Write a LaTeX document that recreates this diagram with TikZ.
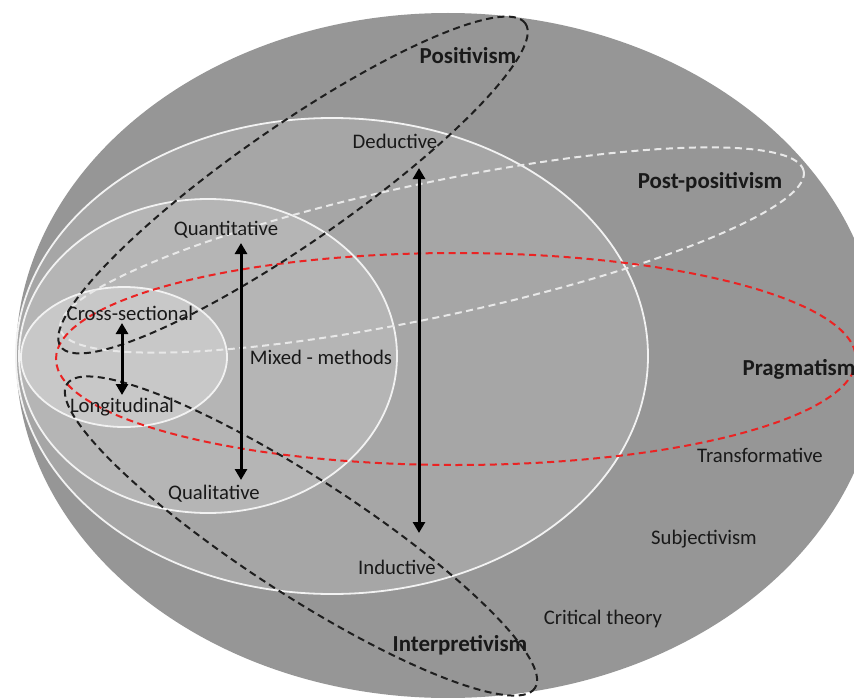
\documentclass[tikz,border=0pt]{standalone}
\usepackage{fontspec}
\setmainfont{Carlito}
\usetikzlibrary{arrows.meta}

\definecolor{shellA}{RGB}{150,150,150}
\definecolor{shellB}{RGB}{166,166,166}
\definecolor{shellC}{RGB}{181,181,181}
\definecolor{shellD}{RGB}{200,200,200}
\definecolor{rimwhite}{RGB}{242,242,242}
\definecolor{dashblack}{RGB}{30,30,30}
\definecolor{dashred}{RGB}{235,35,35}
\definecolor{dashwhite}{RGB}{232,232,232}
\definecolor{txt}{RGB}{25,25,25}

\begin{document}
\begin{tikzpicture}[x=1pt, y=-1pt,
  lbl/.style={inner sep=0pt, anchor=base, text=txt, font=\fontsize{20.7}{24}\selectfont},
  hdr/.style={inner sep=0pt, anchor=base, text=txt, font=\fontsize{22.9}{27}\selectfont\bfseries},
  rim/.style={draw=rimwhite, line width=1.8pt},
  blackdash/.style={draw=dashblack, line width=2pt, dash pattern=on 7pt off 4.5pt},
  reddash/.style={draw=dashred, line width=2pt, dash pattern=on 7pt off 4.5pt},
  whitedash/.style={draw=dashwhite, line width=2pt, dash pattern=on 7pt off 4.5pt},
  dbl/.style={line width=3pt, draw=black,
    {Triangle[length=11pt,width=12pt]}-{Triangle[length=11pt,width=12pt]}}
]
\useasboundingbox (0,0) rectangle (854,698);
\clip (0,0) rectangle (854,698);
\fill[white] (0,0) rectangle (854,698);

% nested shells
\fill[shellA] (448,355.5) ellipse [x radius=432, y radius=342.5];
\filldraw[fill=shellB, rim] (332,356) ellipse [x radius=316, y radius=238];
\filldraw[fill=shellC, rim] (208,356) ellipse [x radius=189, y radius=157];
\filldraw[fill=shellD, rim] (124,357) ellipse [x radius=103, y radius=70];

% paradigm outlines
\draw[whitedash, rotate around={12:(432,250)}] (432,250) ellipse [x radius=380, y radius=67];
\draw[reddash] (456,359) ellipse [x radius=400, y radius=106];
\draw[blackdash, rotate around={34.8:(293,185)}] (293,185) ellipse [x radius=283, y radius=58];
\draw[blackdash, rotate around={-33:(301,536)}] (301,536) ellipse [x radius=279, y radius=58];

% arrow end points
\coordinate (csTop) at (122,323);
\coordinate (csBot) at (122,395);
\coordinate (qnTop) at (241,243);
\coordinate (qnBot) at (241,480);
\coordinate (dTop) at (419,168);
\coordinate (dBot) at (419,533);
\draw[dbl] (csTop) -- (csBot);
\draw[dbl] (qnTop) -- (qnBot);
\draw[dbl] (dTop) -- (dBot);

% labels
\node[hdr] (positivism) at (468,64) {Positivism};
\node[lbl] (deductive) at (395,149) {Deductive};
\node[hdr] (postpos) at (710,189) {Post-positivism};
\node[lbl] (quant) at (226,235) {Quantitative};
\node[lbl] (cross) at (130,320) {Cross-sectional};
\node[lbl] (mixed) at (321,364) {Mixed - methods};
\node[hdr] (pragmatism) at (799,375) {Pragmatism};
\node[lbl] (longi) at (122,412) {Longitudinal};
\node[lbl] (transf) at (760,462) {Transformative};
\node[lbl] (qual) at (214,499) {Qualitative};
\node[lbl] (subj) at (704,544) {Subjectivism};
\node[lbl] (induct) at (397,574) {Inductive};
\node[lbl] (critical) at (603,624) {Critical theory};
\node[hdr] (interp) at (460,651) {Interpretivism};
\end{tikzpicture}
\end{document}
